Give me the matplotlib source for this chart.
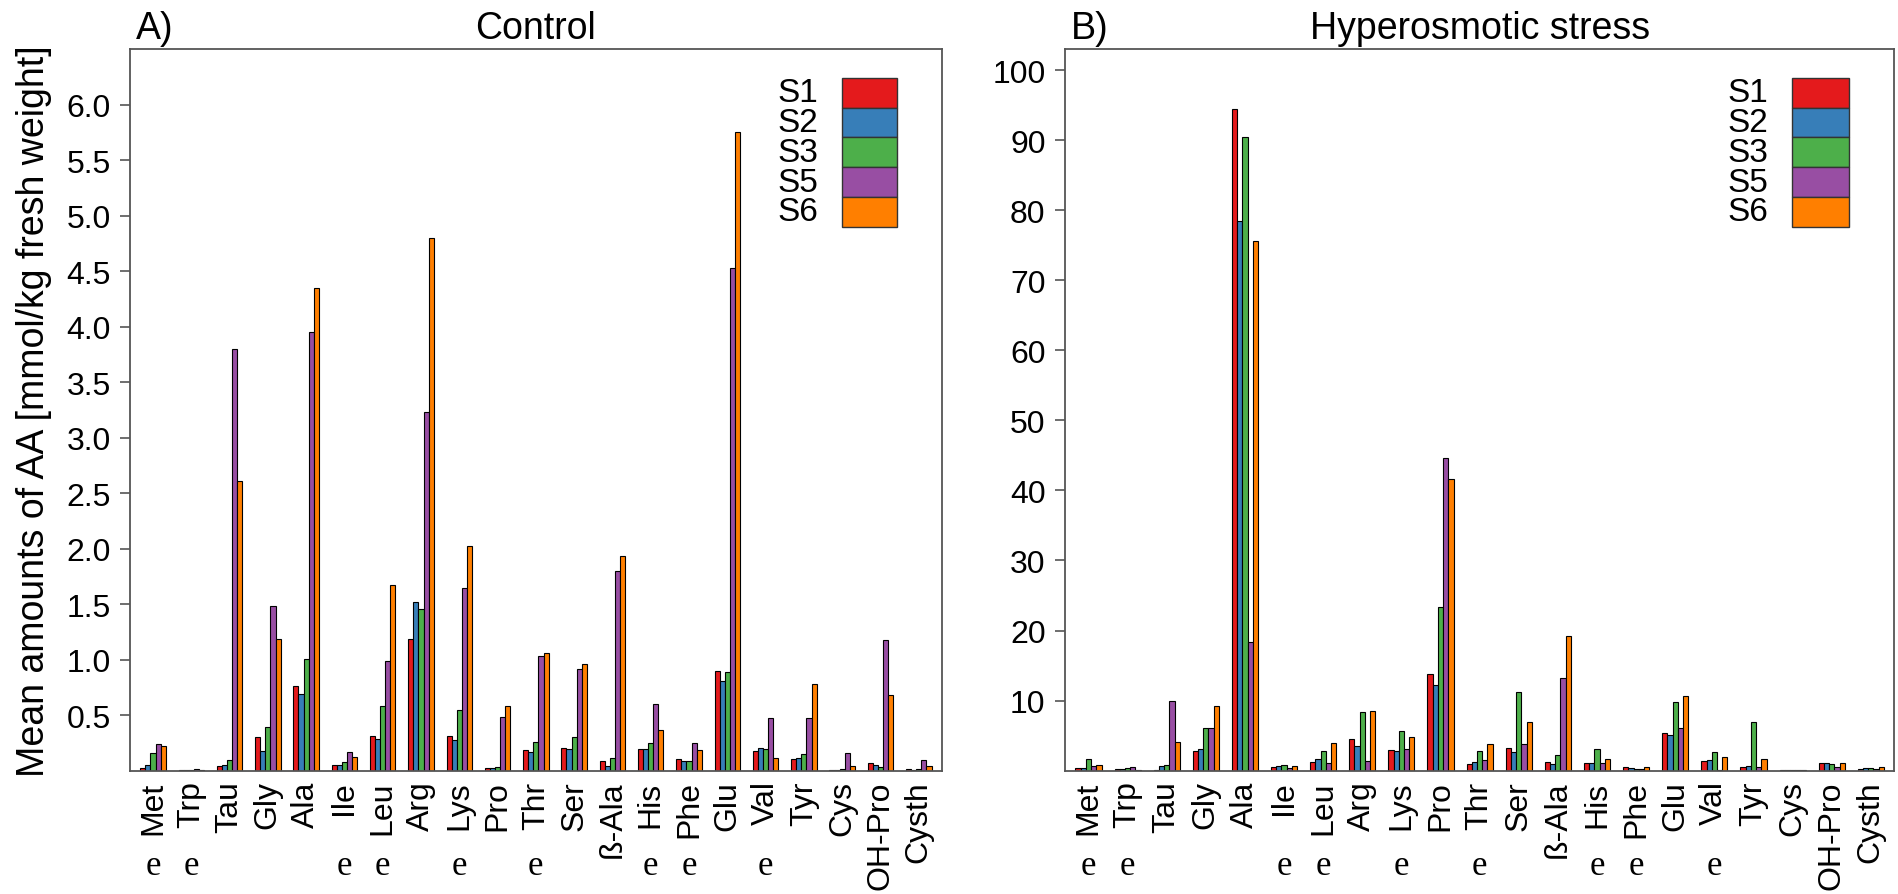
# import libraries

import numpy as np
from matplotlib import pyplot as plt
from matplotlib.patches import Rectangle

plt.rcParams['font.family'] = ['Liberation Sans', 'DejaVu Sans']


# data

amino_acids = ['Met', 'Trp', 'Tau', 'Gly', 'Ala', 'Ile', 'Leu', 'Arg', 'Lys', 'Pro', 'Thr',
               'Ser', 'ß-Ala', 'His', 'Phe', 'Glu', 'Val', 'Tyr', 'Cys', 'OH-Pro', 'Cysth']
essential = ['Met', 'Trp', 'Ile', 'Leu', 'Lys', 'Thr', 'His', 'Phe', 'Val']
strains = ['S1', 'S2', 'S3', 'S5', 'S6']
colors = ['#E41A1C', '#377EB8', '#4DAF4A', '#984EA3', '#FF7F00']

# control, mmol/kg fresh weight
control_s1 = [0.024, 0.003, 0.042, 0.306, 0.765, 0.054, 0.31, 1.19, 0.315, 0.021, 0.186,
              0.207, 0.084, 0.192, 0.108, 0.90, 0.177, 0.102, 0.009, 0.069, 0.015]
control_s2 = [0.054, 0.003, 0.048, 0.174, 0.693, 0.048, 0.285, 1.515, 0.28, 0.024, 0.165,
              0.192, 0.042, 0.195, 0.087, 0.804, 0.204, 0.117, 0.009, 0.054, 0.009]
control_s3 = [0.156, 0.004, 0.10, 0.39, 1.005, 0.078, 0.58, 1.455, 0.55, 0.033, 0.258,
              0.306, 0.111, 0.252, 0.09, 0.885, 0.195, 0.15, 0.015, 0.03, 0.018]
control_s5 = [0.24, 0.013, 3.80, 1.485, 3.95, 0.165, 0.984, 3.234, 1.644, 0.486, 1.035,
              0.912, 1.803, 0.60, 0.246, 4.53, 0.474, 0.471, 0.156, 1.176, 0.096]
control_s6 = [0.225, 0.005, 2.61, 1.185, 4.35, 0.123, 1.67, 4.795, 2.025, 0.58, 1.062,
              0.96, 1.935, 0.363, 0.189, 5.75, 0.111, 0.78, 0.039, 0.684, 0.042]

# hyperosmotic stress, mmol/kg fresh weight
stress_s1 = [0.38, 0.29, 0.10, 2.8, 94.4, 0.48, 1.24, 4.52, 2.95, 13.74, 0.9,
             3.28, 1.24, 1.05, 0.57, 5.42, 1.43, 0.52, 0.05, 1.09, 0.29]
stress_s2 = [0.38, 0.19, 0.67, 3.09, 78.4, 0.62, 1.66, 3.52, 2.8, 12.27, 1.19,
             2.71, 1.0, 1.05, 0.43, 5.09, 1.57, 0.67, 0.05, 1.09, 0.38]
stress_s3 = [1.71, 0.43, 0.81, 6.09, 90.5, 0.86, 2.85, 8.37, 5.66, 23.4, 2.85,
             11.3, 2.23, 3.09, 0.24, 9.84, 2.71, 6.99, 0.05, 0.9, 0.38]
stress_s5 = [0.67, 0.57, 9.94, 6.09, 18.4, 0.43, 1.14, 1.33, 3.04, 44.6, 1.52,
             3.85, 13.3, 1.14, 0.29, 6.13, 0.10, 0.48, 0.05, 0.48, 0.19]
stress_s6 = [0.81, 0.05, 4.09, 9.27, 75.6, 0.71, 3.9, 8.46, 4.8, 41.56, 3.85,
             6.9, 19.26, 1.66, 0.57, 10.6, 1.95, 1.71, 0.05, 1.05, 0.48]

control = [control_s1, control_s2, control_s3, control_s5, control_s6]
stress = [stress_s1, stress_s2, stress_s3, stress_s5, stress_s6]


# grouped bar plot, R barplot(beside=TRUE) style

def draw_panel(ax, values, ylim, yticks, ytick_labels, letter, title):
    n_groups = len(amino_acids)
    period = len(strains) + 2.5
    starts = np.arange(n_groups) * period
    for j, (series, color) in enumerate(zip(values, colors)):
        ax.bar(starts + j + 0.5, series, width=1.0, color=color,
               edgecolor='black', linewidth=0.8)
    ax.set_xlim(-2, starts[-1] + len(strains) + 2)
    ax.set_ylim(*ylim)
    ax.set_xticks(starts + len(strains) / 2)
    ax.set_xticklabels(amino_acids, rotation=90, fontsize=23)
    ax.tick_params(axis='x', length=0, pad=7)
    ax.set_yticks(yticks)
    ax.set_yticklabels(ytick_labels, fontsize=23)
    ax.tick_params(axis='y', length=7, width=1.2, color='#555555', pad=7)
    for s in ax.spines.values():
        s.set_color('#555555')
        s.set_linewidth(1.3)

    # essential amino acid marks
    for k, aa in enumerate(amino_acids):
        if aa in essential:
            ax.text(starts[k] + len(strains) / 2, -0.131, 'e', transform=ax.get_xaxis_transform(),
                    ha='center', va='center', fontsize=25, family='Liberation Serif')

    # titles
    ax.text(0.007, 1.015, letter, transform=ax.transAxes, fontsize=27, ha='left', va='baseline')
    ax.text(0.5, 1.015, title, transform=ax.transAxes, fontsize=27, ha='center', va='baseline')

    # legend
    box_h = 0.0413
    top = 0.9602
    for j, (name, color) in enumerate(zip(strains, colors)):
        y = top - (j + 1) * box_h
        ax.add_patch(Rectangle((0.877, y), 0.068, box_h, transform=ax.transAxes,
                               facecolor=color, edgecolor='#333333', linewidth=1.0, clip_on=False))
        ax.text(0.848, y + box_h / 2, name, transform=ax.transAxes, fontsize=24,
                ha='right', va='center')


fig = plt.figure(figsize=(18.99, 8.95), dpi=100)
ax_a = fig.add_axes([0.06846, 0.13777, 0.42744, 0.80637])
ax_b = fig.add_axes([0.56082, 0.13777, 0.43670, 0.80637])

a_ticks = np.arange(0.5, 6.01, 0.5)
draw_panel(ax_a, control, (0, 6.5), a_ticks, [f'{t:.1f}' for t in a_ticks], 'A)', 'Control')

b_ticks = np.arange(10, 101, 10)
draw_panel(ax_b, stress, (0, 103), b_ticks, [str(t) for t in b_ticks], 'B)', 'Hyperosmotic stress')

fig.text(0.0179, 0.5408, 'Mean amounts of AA [mmol/kg fresh weight]', rotation=90,
         ha='center', va='center', fontsize=27)

plt.savefig('out.png', dpi=100)
